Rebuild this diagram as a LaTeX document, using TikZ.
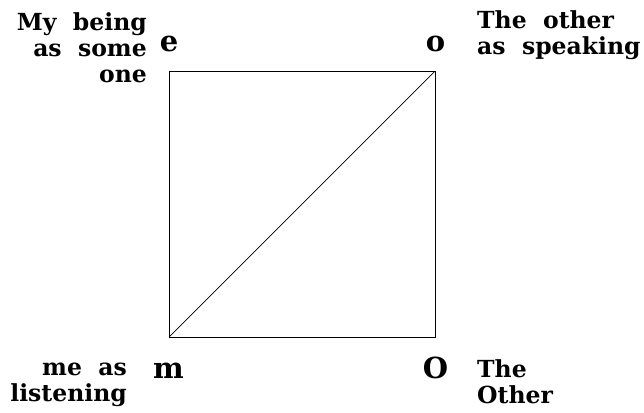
\documentclass[tikz,border=0pt]{standalone}
\usepackage{fontspec}
\setmainfont{DejaVu Serif}[WordSpace=2]
\begin{document}
\begin{tikzpicture}[x=1pt,y=-1pt,
  lbl/.style={inner sep=0pt,font=\bfseries\fontsize{23.5}{26}\selectfont},
  vtx/.style={inner sep=0pt,font=\bfseries\fontsize{29}{29}\selectfont},
  edge/.style={line width=0.7pt}]
\useasboundingbox (0,0) rectangle (644,412);
\coordinate (E) at (169,71);
\coordinate (Os) at (435,71);
\coordinate (Ob) at (435,337);
\coordinate (M) at (169,337);
\draw[edge] (E) -- (Os) -- (Ob) -- (M) -- cycle;
\draw[edge] (M) -- (Os);
\node[vtx,anchor=base] (le) at (169,52) {e};
\node[vtx,anchor=base] (lo) at (435.5,52) {o};
\node[vtx,anchor=base] (lm) at (168.5,378) {m};
\node[vtx,anchor=base] (lO) at (435.5,378) {O};
\node[lbl,align=right,anchor=base east] (t1) at (147,82) {My being\\as some\\one};
\node[lbl,align=left,anchor=base west] (t2) at (477,55) {The other\\as speaking};
\node[lbl,align=right,anchor=base east] (t3) at (127,401) {me as\\listening};
\node[lbl,align=left,anchor=base west] (t4) at (477,403) {The\\Other};
\end{tikzpicture}
\end{document}
